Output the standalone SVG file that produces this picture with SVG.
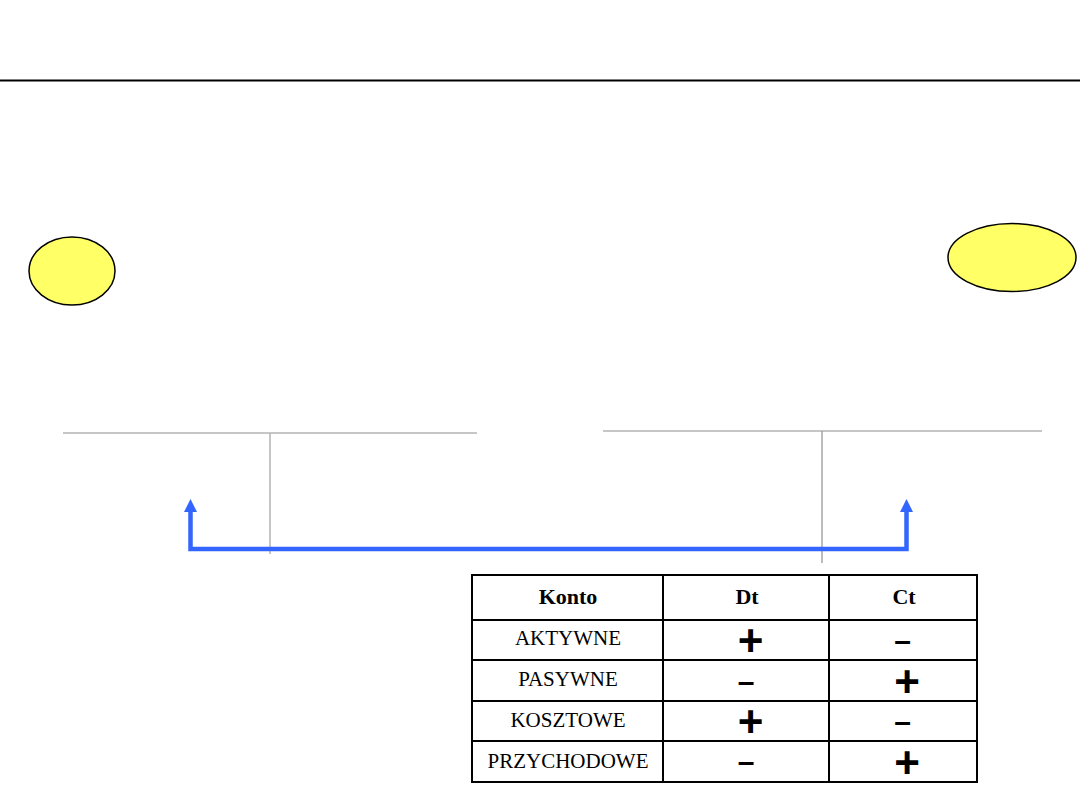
<svg xmlns="http://www.w3.org/2000/svg" width="1080" height="810" viewBox="0 0 1080 810">
<style>
.ell{fill:#ffff66;stroke:#000;stroke-width:1.5}
.tacc{stroke:#b3b3b3;stroke-width:1.5;fill:none}
.tacc2{stroke:#999;stroke-width:1.3;fill:none}
.flow{stroke:#3366ff;stroke-width:4.5;fill:none}
.grid{stroke:#000;stroke-width:2;fill:none}
.hd{font-family:"Liberation Serif",serif;font-weight:bold;font-size:22px;text-anchor:middle;fill:#000}
.rw{font-family:"Liberation Serif",serif;font-size:21px;text-anchor:middle;fill:#000}
.pl{font-family:"Liberation Sans",sans-serif;font-weight:bold;font-size:44px;text-anchor:middle;fill:#000}
.mn{font-family:"Liberation Sans",sans-serif;font-weight:bold;font-size:30px;text-anchor:middle;fill:#000}
</style>
<defs>
<marker id="ah" viewBox="0 0 10 10" refX="5" refY="0" markerWidth="3" markerHeight="3" orient="auto-start-reverse" markerUnits="strokeWidth">
<path d="M0,10 L5,0 L10,10 Z" fill="#3366ff"/>
</marker>
</defs>
<rect width="1080" height="810" fill="#fff"/>
<line x1="0" y1="80.5" x2="1080" y2="80.5" stroke="#000" stroke-width="2"/>
<g id="node-left-circle"><ellipse class="ell" cx="72" cy="271" rx="43" ry="34"/></g>
<g id="node-right-circle"><ellipse class="ell" cx="1012" cy="257.5" rx="64" ry="34"/></g>
<g id="node-left-account">
<line class="tacc" x1="63" y1="433" x2="477" y2="433"/>
<line class="tacc" x1="270" y1="433" x2="270" y2="554"/>
</g>
<g id="node-right-account">
<line class="tacc" x1="603" y1="431" x2="1042" y2="431"/>
<line class="tacc2" x1="822" y1="431" x2="822" y2="563"/>
</g>
<g id="connectors">
<polyline class="flow" points="190.5,512 190.5,549 906.5,549 906.5,512"/>
<polygon points="184,512 197,512 190.5,499" fill="#3366ff"/>
<polygon points="900,512 913,512 906.5,499" fill="#3366ff"/>
</g>
<g id="node-table">
<rect class="grid" x="472" y="575" width="505" height="207"/>
<line class="grid" x1="663" y1="575" x2="663" y2="782"/>
<line class="grid" x1="829" y1="575" x2="829" y2="782"/>
<line class="grid" x1="472" y1="620" x2="977" y2="620"/>
<line class="grid" x1="472" y1="660" x2="977" y2="660"/>
<line class="grid" x1="472" y1="701" x2="977" y2="701"/>
<line class="grid" x1="472" y1="741" x2="977" y2="741"/>
<text class="hd" x="568" y="604">Konto</text>
<text class="hd" x="747" y="604">Dt</text>
<text class="hd" x="904" y="604">Ct</text>
<text class="rw" x="568" y="644.5">AKTYWNE</text>
<text class="rw" x="568" y="685.5">PASYWNE</text>
<text class="rw" x="568" y="726.5">KOSZTOWE</text>
<text class="rw" x="568" y="767.5">PRZYCHODOWE</text>
<text class="pl" x="750.5" y="656">+</text>
<text class="mn" x="902.5" y="651">–</text>
<text class="mn" x="746" y="692">–</text>
<text class="pl" x="907" y="697">+</text>
<text class="pl" x="750.5" y="737">+</text>
<text class="mn" x="902.5" y="732">–</text>
<text class="mn" x="746" y="772">–</text>
<text class="pl" x="907" y="778">+</text>
</g>
</svg>
